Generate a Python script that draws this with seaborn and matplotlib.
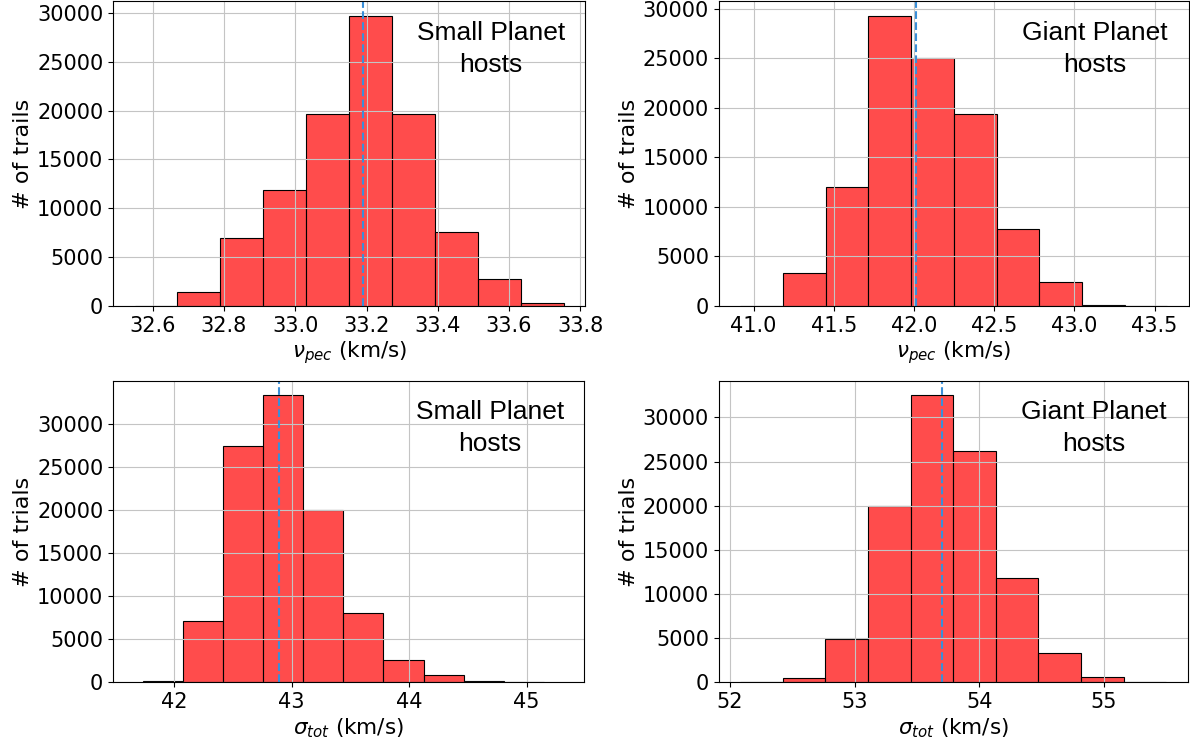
import numpy as np
import pandas as pd
import seaborn as sns
import matplotlib.pyplot as plt

# bin edges and counts (10 bins each)
vpec_small_edges = [32.549, 32.669, 32.790, 32.910, 33.031, 33.151, 33.272, 33.392, 33.513, 33.633, 33.754]
vpec_small_counts = [10, 1450, 6900, 11900, 19650, 29700, 19650, 7600, 2700, 300]
vpec_small_mean = 33.19

vpec_giant_edges = [40.916, 41.183, 41.449, 41.716, 41.982, 42.248, 42.515, 42.781, 43.048, 43.314, 43.580]
vpec_giant_counts = [10, 3300, 12000, 29250, 25000, 19350, 7750, 2400, 120, 5]
vpec_giant_mean = 42.015

stot_small_edges = [41.733, 42.074, 42.416, 42.757, 43.098, 43.440, 43.781, 44.122, 44.464, 44.805, 45.146]
stot_small_counts = [150, 7050, 27450, 33300, 19950, 8000, 2600, 850, 120, 5]
stot_small_mean = 42.89

stot_giant_edges = [52.081, 52.423, 52.765, 53.107, 53.449, 53.791, 54.134, 54.476, 54.818, 55.160, 55.502]
stot_giant_counts = [5, 450, 4950, 19950, 32500, 26200, 11800, 3300, 650, 5]
stot_giant_mean = 53.70

vpec_small_xticks = [32.6, 32.8, 33.0, 33.2, 33.4, 33.6, 33.8]
vpec_giant_xticks = [41.0, 41.5, 42.0, 42.5, 43.0, 43.5]
stot_small_xticks = [42, 43, 44, 45]
stot_giant_xticks = [52, 53, 54, 55]
yticks = [0, 5000, 10000, 15000, 20000, 25000, 30000]

labels = ["Small Planet\nhosts", "Giant Planet\nhosts"]
xlabels = [r"$\nu_{pec}$ (km/s)", r"$\sigma_{tot}$ (km/s)"]
ylabels = ["# of trails", "# of trials"]


def draw_panel(ax, edges, counts, mean, xticks, xlabel, ylabel, label, xlim=None):
    e = np.array(edges)
    df = pd.DataFrame({"x": (e[:-1] + e[1:]) / 2, "n": counts})
    sns.histplot(data=df, x="x", weights="n", bins=list(edges), ax=ax,
                 color="red", alpha=0.7, edgecolor="black", linewidth=0.8)
    ax.axvline(mean, color="#3a8fd9", linestyle="--", linewidth=1.5)
    ax.grid(True, color="#c4c4c4")
    ax.set_xticks(xticks)
    ax.set_yticks(yticks)
    if xlim is not None:
        ax.set_xlim(xlim)
    ax.tick_params(labelsize=15)
    ax.set_xlabel(xlabel, fontsize=15.5, labelpad=3)
    ax.set_ylabel(ylabel, fontsize=16, labelpad=3)
    ax.text(0.80, 0.843, label, transform=ax.transAxes, ha="center", va="center",
            fontsize=19, family="Liberation Sans", linespacing=1.4)


fig = plt.figure(figsize=(11.9, 7.44), dpi=100)
ax1 = fig.add_axes([0.095, 0.589, 0.397, 0.409])
ax2 = fig.add_axes([0.604, 0.589, 0.395, 0.409])
ax3 = fig.add_axes([0.095, 0.083, 0.396, 0.405])
ax4 = fig.add_axes([0.604, 0.083, 0.394, 0.405])

draw_panel(ax1, vpec_small_edges, vpec_small_counts, vpec_small_mean,
           vpec_small_xticks, xlabels[0], ylabels[0], labels[0])
draw_panel(ax2, vpec_giant_edges, vpec_giant_counts, vpec_giant_mean,
           vpec_giant_xticks, xlabels[0], ylabels[0], labels[1])
draw_panel(ax3, stot_small_edges, stot_small_counts, stot_small_mean,
           stot_small_xticks, xlabels[1], ylabels[1], labels[0], xlim=(41.48, 45.49))
draw_panel(ax4, stot_giant_edges, stot_giant_counts, stot_giant_mean,
           stot_giant_xticks, xlabels[1], ylabels[1], labels[1])

fig.savefig("out.png", dpi=100)
